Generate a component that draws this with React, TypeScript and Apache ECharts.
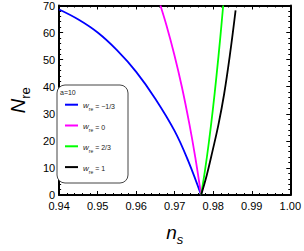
import React, { useEffect, useRef } from 'react';
import * as echarts from 'echarts';

const wreLabels = ['−1/3', '0', '2/3', '1'];
const lineColors = ['#0000ff', '#ff00ff', '#00ff00', '#000000'];

const blueNs = [0.940, 0.945, 0.950, 0.955, 0.960, 0.965, 0.970, 0.9735, 0.97685];
const blueN = [68.5, 64.8, 60.0, 53.5, 45.5, 35.5, 23.6, 12.6, 0];
const pinkNs = [0.96629, 0.96785, 0.96985, 0.97185, 0.97385, 0.97535, 0.97685];
const pinkN = [70, 62.7, 52.1, 40.0, 25.9, 13.8, 0];
const greenNs = [0.97685, 0.97785, 0.97885, 0.97985, 0.98085, 0.98185, 0.98258];
const greenN = [0, 9.0, 19.3, 31.0, 44.1, 58.5, 70];
const blackNs = [0.97685, 0.97835, 0.97985, 0.98135, 0.98285, 0.98435, 0.9858];
const blackN = [0, 7.5, 16.5, 26.0, 37.5, 52.0, 68.2];

const xTicks = { min: 0.94, max: 1.0, interval: 0.01 };
const yTicks = { min: 0, max: 70, interval: 10 };

const seriesNs = [blueNs, pinkNs, greenNs, blackNs];
const seriesN = [blueN, pinkN, greenN, blackN];
const seriesNames = wreLabels.map((l) => `w_re = ${l}`);

const FONT = 'Liberation Sans, Arial, sans-serif';

export default function App() {
  const ref = useRef<HTMLDivElement>(null);
  useEffect(() => {
    if (!ref.current) return;
    const chart = echarts.init(ref.current, undefined, { renderer: 'svg' });
    const frameAxis = {
      axisLine: { show: true, onZero: false, lineStyle: { color: '#000', width: 2 } },
      axisTick: { show: true, inside: true, length: 4, lineStyle: { color: '#000', width: 1 } },
      minorTick: { show: true, splitNumber: 5, length: 2, lineStyle: { color: '#000', width: 1 } },
      splitLine: { show: false },
    };
    chart.setOption({
      animation: false,
      backgroundColor: '#fff',
      textStyle: { fontFamily: FONT },
      grid: { left: 43, right: 13, top: 5, bottom: 48 },
      xAxis: [
        {
          type: 'value', ...xTicks, position: 'bottom', ...frameAxis,
          axisLabel: { color: '#000', fontSize: 11, fontFamily: FONT, margin: 5, formatter: (v: number) => v.toFixed(2) },
          name: '{n|n}{s|s}', nameLocation: 'middle', nameGap: 28,
          nameTextStyle: {
            rich: {
              n: { fontSize: 19, fontStyle: 'italic', fontFamily: FONT, color: '#000', verticalAlign: 'bottom' },
              s: { fontSize: 13, fontStyle: 'italic', fontFamily: FONT, color: '#000', verticalAlign: 'bottom', padding: [0, 0, -4, 0] },
            },
          },
        },
        { type: 'value', ...xTicks, position: 'top', ...frameAxis, axisLabel: { show: false } },
      ],
      yAxis: [
        {
          type: 'value', ...yTicks, position: 'left', ...frameAxis,
          axisLabel: { color: '#000', fontSize: 11, fontFamily: FONT, margin: 4 },
          name: '{N|N}{r|re}', nameLocation: 'middle', nameGap: 23, nameRotate: 90,
          nameTextStyle: {
            rich: {
              N: { fontSize: 20, fontStyle: 'italic', fontFamily: FONT, color: '#000', verticalAlign: 'bottom' },
              r: { fontSize: 13, fontFamily: FONT, color: '#000', verticalAlign: 'bottom', padding: [0, 0, -4, 0] },
            },
          },
        },
        { type: 'value', ...yTicks, position: 'right', ...frameAxis, axisLabel: { show: false } },
      ],
      legend: {
        orient: 'vertical',
        left: 65,
        top: 101.7,
        padding: 0,
        icon: 'rect',
        itemWidth: 13,
        itemHeight: 2,
        itemGap: 10.8,
        z: 6,
        data: seriesNames,
        formatter: (name: string) => {
          const i = seriesNames.indexOf(name);
          return `{w|w}{s|re}{t| = ${wreLabels[i]}}`;
        },
        textStyle: {
          padding: [0, 0, 0, 0],
          rich: {
            w: { fontSize: 8, fontStyle: 'italic', fontFamily: FONT, color: '#222', lineHeight: 10, verticalAlign: 'bottom' },
            s: { fontSize: 5, fontFamily: FONT, color: '#222', lineHeight: 10, verticalAlign: 'bottom', padding: [0, 0, -2, 0] },
            t: { fontSize: 7, fontFamily: FONT, color: '#222', lineHeight: 10, verticalAlign: 'bottom' },
          },
        },
      },
      graphic: [
        {
          type: 'rect', z: 5,
          shape: { x: 57, y: 85, width: 71, height: 98, r: 8 },
          style: { fill: '#fff', stroke: '#444', lineWidth: 1 },
        },
        {
          type: 'text', z: 6, x: 60, y: 92.5,
          style: { text: 'a=10', fontSize: 7, fontFamily: FONT, fill: '#222', verticalAlign: 'middle' },
        },
      ],
      series: seriesNames.map((name, k) => ({
        name,
        type: 'line',
        xAxisIndex: 0,
        yAxisIndex: 0,
        showSymbol: false,
        symbol: 'none',
        smooth: 0.4,
        color: lineColors[k],
        lineStyle: { color: lineColors[k], width: 1.8 },
        data: seriesNs[k].map((x, j) => [x, seriesN[k][j]]),
        z: 2,
      })),
    });
    return () => chart.dispose();
  }, []);
  return <div ref={ref} style={{ position: 'fixed', left: 0, top: 0, width: 304, height: 251 }} />;
}
